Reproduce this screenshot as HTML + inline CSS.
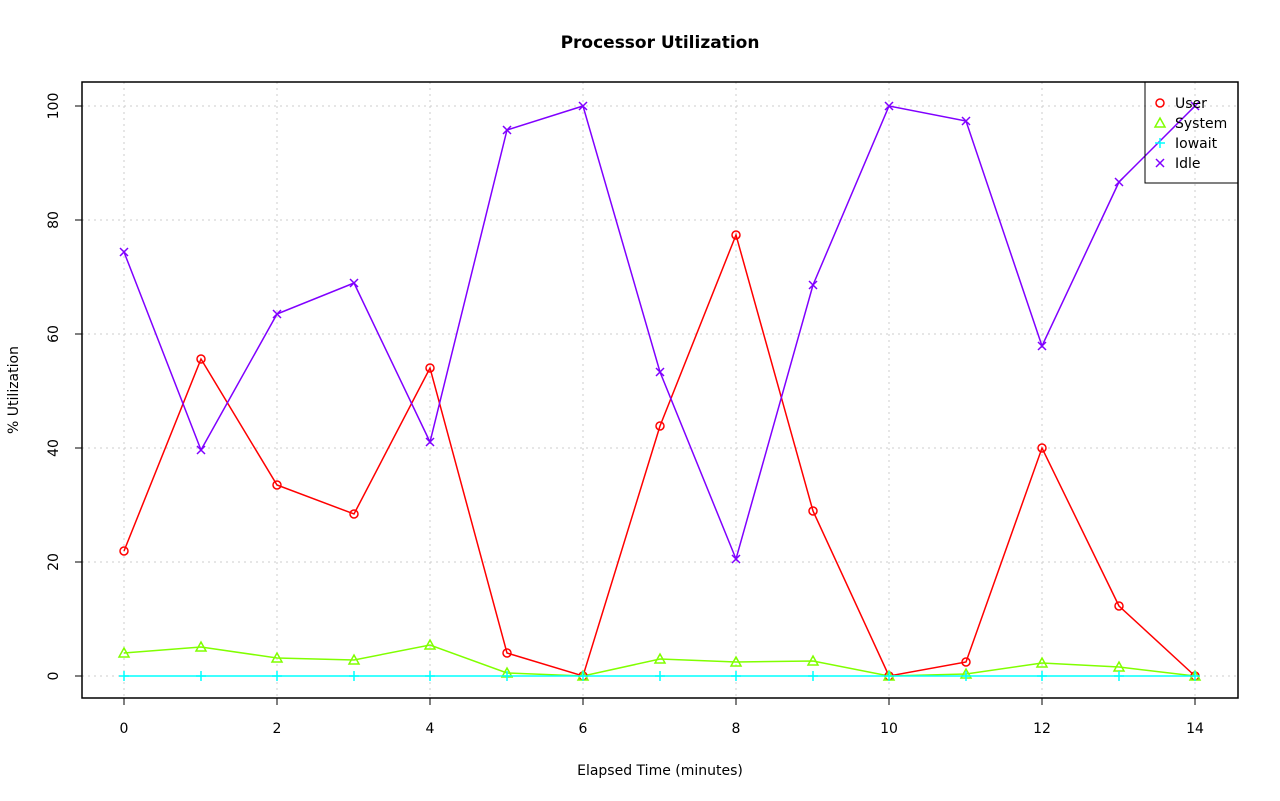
<!DOCTYPE html>
<html><head><style>body{margin:0;background:#fff}svg{display:block}text{font-family:"DejaVu Sans",sans-serif}</style></head><body>
<svg width="1280" height="801" xmlns="http://www.w3.org/2000/svg">
<rect width="1280" height="801" fill="#fff"/>
<text x="660" y="48" text-anchor="middle" font-size="17" font-weight="bold">Processor Utilization</text>
<g stroke="#ccc" stroke-dasharray="2,4" stroke-width="1">
<line x1="124" y1="82" x2="124" y2="698"/><line x1="277" y1="82" x2="277" y2="698"/><line x1="430" y1="82" x2="430" y2="698"/><line x1="583" y1="82" x2="583" y2="698"/><line x1="736" y1="82" x2="736" y2="698"/><line x1="889" y1="82" x2="889" y2="698"/><line x1="1042" y1="82" x2="1042" y2="698"/><line x1="1195" y1="82" x2="1195" y2="698"/>
<line x1="82" y1="676" x2="1238" y2="676"/><line x1="82" y1="562" x2="1238" y2="562"/><line x1="82" y1="448" x2="1238" y2="448"/><line x1="82" y1="334" x2="1238" y2="334"/><line x1="82" y1="220" x2="1238" y2="220"/><line x1="82" y1="106" x2="1238" y2="106"/>
</g>
<rect x="82" y="82" width="1156" height="616" fill="none" stroke="#000" stroke-width="1.5"/>
<g stroke="#000" stroke-width="1">
<line x1="124" y1="698" x2="1195" y2="698"/>
<line x1="124" y1="698" x2="124" y2="705"/><line x1="277" y1="698" x2="277" y2="705"/><line x1="430" y1="698" x2="430" y2="705"/><line x1="583" y1="698" x2="583" y2="705"/><line x1="736" y1="698" x2="736" y2="705"/><line x1="889" y1="698" x2="889" y2="705"/><line x1="1042" y1="698" x2="1042" y2="705"/><line x1="1195" y1="698" x2="1195" y2="705"/>
<line x1="82" y1="106" x2="82" y2="676"/>
<line x1="75" y1="676" x2="82" y2="676"/><line x1="75" y1="562" x2="82" y2="562"/><line x1="75" y1="448" x2="82" y2="448"/><line x1="75" y1="334" x2="82" y2="334"/><line x1="75" y1="220" x2="82" y2="220"/><line x1="75" y1="106" x2="82" y2="106"/>
</g>
<g font-size="14" text-anchor="middle">
<text x="124" y="733">0</text><text x="277" y="733">2</text><text x="430" y="733">4</text><text x="583" y="733">6</text><text x="736" y="733">8</text><text x="889" y="733">10</text><text x="1042" y="733">12</text><text x="1195" y="733">14</text>
<g transform="rotate(-90)"><text x="-676" y="58">0</text><text x="-562" y="58">20</text><text x="-448" y="58">40</text><text x="-334" y="58">60</text><text x="-220" y="58">80</text><text x="-106" y="58">100</text>
<text x="-390" y="18">% Utilization</text></g>
<text x="660" y="775">Elapsed Time (minutes)</text>
</g>
<polyline fill="none" stroke="#f00" stroke-width="1.5" points="124,551 201,359 277,485 354,514 430,368 507,653 583,676 660,426 736,235 813,511 889,676 966,662 1042,448 1119,606 1195,676"/>
<polyline fill="none" stroke="#80ff00" stroke-width="1.5" points="124,653 201,647 277,658 354,660 430,645 507,673 583,676 660,659 736,662 813,661 889,676 966,674 1042,663 1119,667 1195,676"/>
<polyline fill="none" stroke="#00ffff" stroke-width="1.5" points="124,676 1195,676"/>
<polyline fill="none" stroke="#8000ff" stroke-width="1.5" points="124,252 201,450 277,314 354,283 430,442 507,130 583,106 660,372 736,559 813,285 889,106 966,121 1042,346 1119,182 1195,106"/>
<g fill="none" stroke="#f00" stroke-width="1.5">
<circle cx="124" cy="551" r="4"/><circle cx="201" cy="359" r="4"/><circle cx="277" cy="485" r="4"/><circle cx="354" cy="514" r="4"/><circle cx="430" cy="368" r="4"/><circle cx="507" cy="653" r="4"/><circle cx="583" cy="676" r="4"/><circle cx="660" cy="426" r="4"/><circle cx="736" cy="235" r="4"/><circle cx="813" cy="511" r="4"/><circle cx="889" cy="676" r="4"/><circle cx="966" cy="662" r="4"/><circle cx="1042" cy="448" r="4"/><circle cx="1119" cy="606" r="4"/><circle cx="1195" cy="676" r="4"/><circle cx="1160" cy="103" r="4"/>
</g>
<g fill="none" stroke="#80ff00" stroke-width="1.5">
<path d="M124,648l5,9h-10z M201,642l5,9h-10z M277,653l5,9h-10z M354,655l5,9h-10z M430,640l5,9h-10z M507,668l5,9h-10z M583,671l5,9h-10z M660,654l5,9h-10z M736,657l5,9h-10z M813,656l5,9h-10z M889,671l5,9h-10z M966,669l5,9h-10z M1042,658l5,9h-10z M1119,662l5,9h-10z M1195,671l5,9h-10z M1160,118l5,9h-10z"/>
</g>
<g stroke="#00ffff" stroke-width="1.5">
<path d="M119,676h10M124,671v10 M196,676h10M201,671v10 M272,676h10M277,671v10 M349,676h10M354,671v10 M425,676h10M430,671v10 M502,676h10M507,671v10 M578,676h10M583,671v10 M655,676h10M660,671v10 M731,676h10M736,671v10 M808,676h10M813,671v10 M884,676h10M889,671v10 M961,676h10M966,671v10 M1037,676h10M1042,671v10 M1114,676h10M1119,671v10 M1190,676h10M1195,671v10 M1155,143h10M1160,138v10"/>
</g>
<g stroke="#8000ff" stroke-width="1.5">
<path d="M120,248l8,8m0,-8l-8,8 M197,446l8,8m0,-8l-8,8 M273,310l8,8m0,-8l-8,8 M350,279l8,8m0,-8l-8,8 M426,438l8,8m0,-8l-8,8 M503,126l8,8m0,-8l-8,8 M579,102l8,8m0,-8l-8,8 M656,368l8,8m0,-8l-8,8 M732,555l8,8m0,-8l-8,8 M809,281l8,8m0,-8l-8,8 M885,102l8,8m0,-8l-8,8 M962,117l8,8m0,-8l-8,8 M1038,342l8,8m0,-8l-8,8 M1115,178l8,8m0,-8l-8,8 M1191,102l8,8m0,-8l-8,8 M1156,159l8,8m0,-8l-8,8"/>
</g>
<rect x="1145" y="82" width="93" height="101" fill="none" stroke="#000" stroke-width="1"/>
<g font-size="14"><text x="1175" y="108">User</text><text x="1175" y="128">System</text><text x="1175" y="148">Iowait</text><text x="1175" y="168">Idle</text></g>
</svg>
</body></html>
